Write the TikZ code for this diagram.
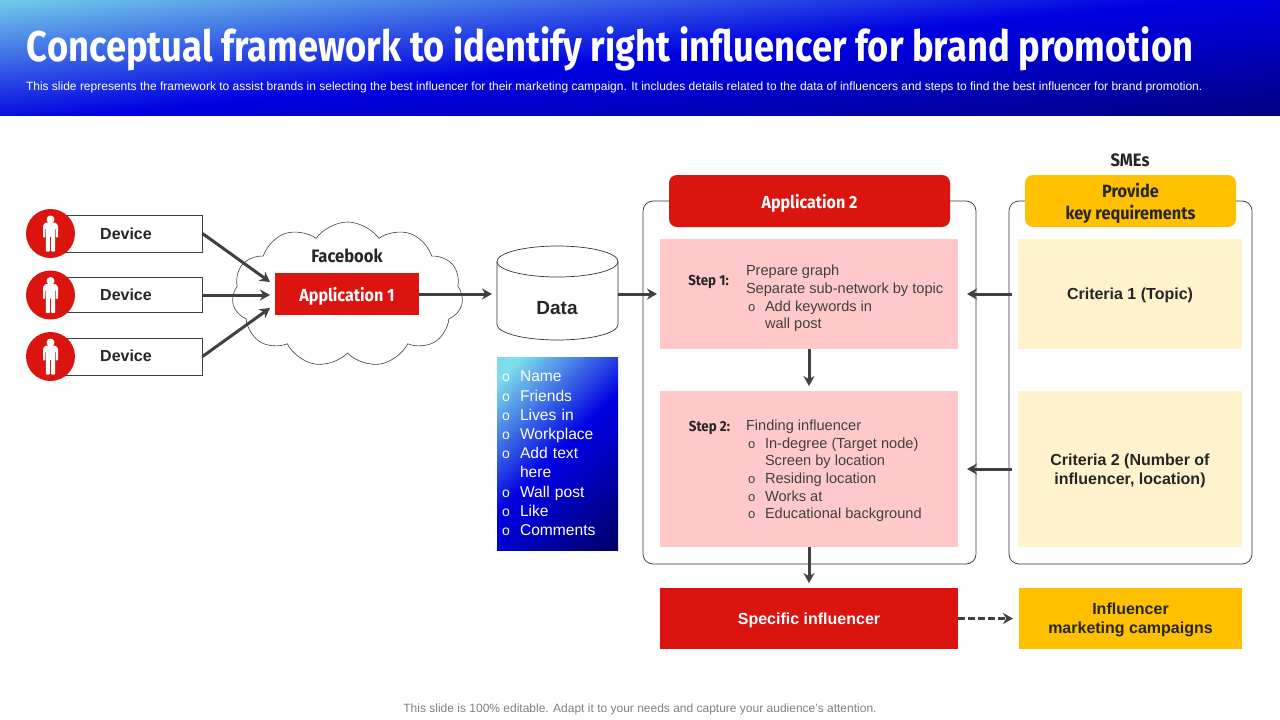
\documentclass[tikz,border=0pt]{standalone}
\usepackage{fontspec}
\setmainfont{Liberation Sans}
\newfontfamily\dinfont[FakeStretch=0.92]{Fira Sans}
\newfontfamily\titlefont[FakeStretch=0.845]{Fira Sans}
\usepackage{tikz}
\usetikzlibrary{shapes, shapes.geometric, shapes.symbols, arrows, arrows.meta, positioning, calc}

\definecolor{appred}{RGB}{220,20,16}
\definecolor{steppink}{RGB}{255,201,201}
\definecolor{critcream}{RGB}{255,242,204}
\definecolor{smeamber}{RGB}{255,192,0}
\definecolor{linegrey}{RGB}{64,64,64}
\definecolor{fadestart}{RGB}{125,222,235}
\definecolor{fademid}{RGB}{0,0,225}
\definecolor{fadeblue}{RGB}{0,0,205}
\definecolor{fadeend}{RGB}{0,0,100}

\pgfdeclarehorizontalshading{bluefade}{100bp}{
	color(0bp)=(fadestart); color(20bp)=(fadestart); color(50bp)=(fademid);
	color(58bp)=(fadeblue); color(85bp)=(fadeend); color(100bp)=(fadeend)}

\newcommand{\dinbold}[1]{\fontsize{#1}{#1}\selectfont\dinfont\bfseries}
\newcommand{\ringitem}{\hspace*{2pt}\makebox[17pt][l]{\fontsize{13}{13}\selectfont o}}
\newcommand{\ringfill}{\hspace*{19pt}}
\newcommand{\listitem}{\hspace*{5pt}\makebox[18pt][l]{\fontsize{14}{14}\selectfont o}}

\begin{document}
\begin{tikzpicture}[
		x=1pt,y=-1pt,
		every node/.style={outer sep=0pt,inner sep=0pt},
		flowline/.style={draw=linegrey,line width=3pt,-{Stealth[length=10pt,width=11pt]}},
		plainbox/.style={draw=black!75,line width=.6pt,fill=white,minimum width=152pt},
		redbox/.style={fill=appred,text=white,align=center,text depth=0pt},
		amberbox/.style={fill=smeamber,text=black!85,align=center,text depth=0pt},
		panel/.style={draw=black!80,line width=.7pt,rounded corners=10pt,minimum height=363pt},
		stepbox/.style={fill=steppink,minimum width=298pt},
		critbox/.style={fill=critcream,minimum width=224pt,align=center,text depth=0pt,font=\fontsize{16}{19}\selectfont\bfseries,text=black!85},
		steptext/.style={align=left,text=linegrey,font=\fontsize{14.6}{17.6}\selectfont},
		steplabel/.style={text=black!85,font=\dinbold{14.5}},
		devicetext/.style={font=\fontsize{16}{19}\selectfont\bfseries,text=black!85},
		datastroke/.style={draw=black!80,line width=.7pt},
		person/.pic={
			\fill[appred] (0,0) circle (24.5pt);
			\fill[white] (0,-14) circle (4pt);
			\fill[white,rounded corners=.8pt] (-7.5,4) -- (-7.5,-8) -- (-5,-11) -- (5,-11) -- (7.5,-8) -- (7.5,4) -- (5.4,4) -- (5.4,-5) -- (4.6,-5) -- (4.6,18) -- (.6,18) -- (.6,3) -- (-.6,3) -- (-.6,18) -- (-4.6,18) -- (-4.6,-5) -- (-5.4,-5) -- (-5.4,4) -- cycle;
		}
	]
	\useasboundingbox (0,0) rectangle (1280,720);

	\node[shade,shading=bluefade,shading angle=-84,minimum width=1280pt,minimum height=115pt,anchor=north west] (banner) at (0,0) {};
	\node[anchor=west,text=white,font=\fontsize{43}{43}\selectfont\titlefont\bfseries] (title) at (27,49) {Conceptual framework to identify right influencer for brand promotion};
	\node[anchor=west,text=white,font=\fontsize{12}{14}\selectfont] (subtitle) at (26,87.5) {This slide represents the framework to assist brands in selecting the best influencer for their marketing campaign. It includes details related to the data of influencers and steps to find the best influencer for brand promotion.};

	\node[plainbox,minimum height=37pt,anchor=west] (device1) at (50.5,233.5) {};
	\node[plainbox,minimum height=35pt,anchor=west] (device2) at (50.5,295) {};
	\node[plainbox,minimum height=37pt,anchor=west] (device3) at (50.5,356.5) {};
	\node[devicetext] (device1text) at (126,234) {Device};
	\node[devicetext] (device2text) at (126,295) {Device};
	\node[devicetext] (device3text) at (126,356) {Device};
	\pic at (50.5,233.5) {person};
	\pic at (50.5,295) {person};
	\pic at (50.5,356.5) {person};

	\node[cloud,cloud puffs=11,cloud puff arc=110,aspect=1.6,draw=black!75,line width=.6pt,minimum width=231pt,minimum height=145pt] (facebook) at (347.5,294.5) {};
	\node[text=black!85,font=\dinbold{18}] (facebooktext) at (347,256) {Facebook};
	\node[redbox,minimum width=144pt,minimum height=42pt,font=\dinbold{17.5}] (app1) at (347,294) {Application 1};

	\coordinate (in1) at (270,282);
	\coordinate (in2) at (270,295);
	\coordinate (in3) at (270,308);
	\draw[flowline] (device1.east) -- (in1);
	\draw[flowline] (device2.east) -- (in2);
	\draw[flowline] (device3.east) -- (in3);

	\node[minimum width=121pt,minimum height=94pt] (data) at (557.5,293) {};
	\draw[datastroke] ($(data.north)+(0,15.5)$) ellipse [x radius=60.5pt,y radius=15.5pt];
	\draw[datastroke] ($(data.north west)+(0,15.5)$) -- ($(data.south west)+(0,-15.5)$) arc [start angle=180,end angle=360,x radius=60.5pt,y radius=15.5pt] -- ($(data.north east)+(0,15.5)$);
	\node[font=\fontsize{19}{22}\selectfont\bfseries,text=black!85] (datatext) at (557,308) {Data};
	\draw[flowline,shorten >=5pt] (app1.east) -- (app1.east -| data.west);

	\node[shade,shading=bluefade,shading angle=-45,minimum width=121pt,minimum height=193pt,text width=121pt,text=white,align=left,font=\fontsize{15.6}{19.2}\selectfont,anchor=north west] (fields) at (497,357) {\listitem Name\\\listitem Friends\\\listitem Lives in\\\listitem Workplace\\\listitem Add text\\\hspace*{23pt}here\\\listitem Wall post\\\listitem Like\\\listitem Comments};

	\node[panel,minimum width=333pt,anchor=north west] (panel1) at (643,201) {};
	\node[panel,minimum width=243pt,anchor=north west] (panel2) at (1009,201) {};
	\node[redbox,rounded corners=8pt,minimum width=281pt,minimum height=52pt,font=\dinbold{17.5}] (app2) at (809.5,201) {Application 2};
	\node[amberbox,rounded corners=8pt,minimum width=211pt,minimum height=52pt,font=\fontsize{17.7}{22}\selectfont\dinfont\bfseries] (provide) at (1130.5,201) {Provide\\key requirements};
	\node[text=black!85,font=\dinbold{18}] (smes) at (1130,160) {SMEs};

	\node[stepbox,minimum height=110pt] (step1) at (809,294) {};
	\node[stepbox,minimum height=156pt,below=42pt of step1] (step2) {};
	\node[steplabel] (step1label) at (708.5,282) {Step 1:};
	\node[steplabel] (step2label) at (709.5,428) {Step 2:};
	\node[steptext,anchor=west] (step1text) at (746,298.5) {Prepare graph\\Separate sub-network by topic\\\ringitem Add keywords in\\\ringfill wall post};
	\node[steptext,anchor=west] (step2text) at (746,471) {Finding influencer\\\ringitem In-degree (Target node)\\\ringfill Screen by location\\\ringitem Residing location\\\ringitem Works at\\\ringitem Educational background};

	\node[critbox,minimum height=110pt] (crit1) at (1130,294) {Criteria 1 (Topic)};
	\node[critbox,minimum height=156pt,below=42pt of crit1] (crit2) {Criteria 2 (Number of\\influencer, location)};

	\node[redbox,minimum width=298pt,minimum height=61pt,font=\fontsize{16}{19}\selectfont\bfseries,anchor=north] (specific) at (809,588) {Specific influencer};
	\node[amberbox,minimum width=223pt,minimum height=61pt,font=\fontsize{16}{19}\selectfont\bfseries,anchor=north] (campaigns) at (1130.5,588) {Influencer\\marketing campaigns};

	\draw[flowline,shorten >=3pt] (data.east |- step1.west) -- (step1.west);
	\draw[flowline,shorten >=5pt] (step1.south) -- (step2.north);
	\draw[flowline,shorten >=5pt] (step2.south) -- (specific.north);
	\draw[flowline,shorten <=6pt,shorten >=9pt] (crit1.west) -- (step1.east);
	\draw[flowline,shorten <=6pt,shorten >=9pt] (crit2.west) -- (step2.east);
	\draw[flowline,dashed,dash pattern=on 7pt off 3pt,shorten >=6pt] (specific.east) -- (campaigns.west);

	\node[text=black!50,font=\fontsize{12}{14}\selectfont] (footnote) at (640,709.5) {This slide is 100\% editable. Adapt it to your needs and capture your audience's attention.};
\end{tikzpicture}
\end{document}
